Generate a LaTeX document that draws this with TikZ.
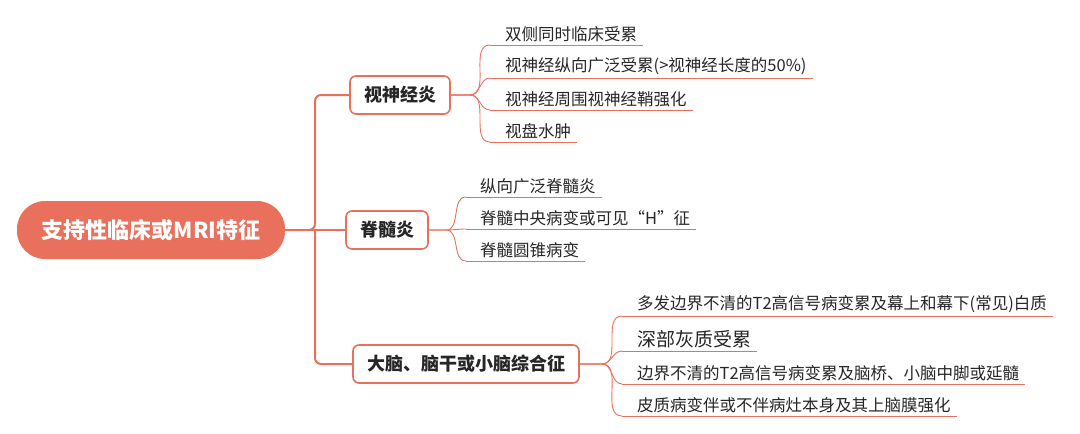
\documentclass[tikz,border=0pt]{standalone}
\usepackage{fontspec}
\setmainfont{Noto Sans CJK SC}
\usetikzlibrary{positioning}
\definecolor{coral}{HTML}{E9705C}

\begin{document}
\begin{tikzpicture}[x=1pt, y=-1pt
        , root/.style={ fill=coral, draw=none, rounded corners=28pt, text=white,
            font=\fontsize{22}{26}\selectfont\bfseries, minimum width=268pt, minimum height=58pt }
        , branch/.style={ fill=white, draw=coral, line width=1.6pt, rounded corners=6pt,
            font=\fontsize{18}{22}\selectfont\bfseries, minimum height=38pt, inner xsep=14pt, text=black!85 }
        , leaf/.style={ anchor=south west, inner xsep=0pt, inner ysep=3pt,
            font=\fontsize{16.5}{20}\selectfont, text=black!85 }
        , trunk/.style={ draw=coral, line width=2pt, rounded corners=6pt }
        , twig/.style={ draw=coral, line width=0.9pt }
        ]
        \useasboundingbox (0,0) rectangle (1080,434);

        \node[root] (root) at (151,230) {支持性临床或MRI特征};

        \node[branch] (b1) at (400,95) {视神经炎};
        \node[branch] (b2) at (387,230) {脊髓炎};
        \node[branch] (b3) at (466,364) {大脑、脑干或小脑综合征};

        % trunk from root to each branch
        \draw[trunk] (root.east) -- (315,230) -- (315,95) -- (b1.west);
        \draw[trunk] (root.east) -- (b2.west);
        \draw[trunk] (315,230) -- (315,364) -- (b3.west);

        % leaves of the first branch
        \foreach \i/\y/\t in {1/45/双侧同时临床受累, 2/78/视神经纵向广泛受累(>视神经长度的50\%),
                3/110/视神经周围视神经鞘强化, 4/142/视盘水肿} {
            \coordinate (u1\i) at (490,\y);
            \node[leaf] (a\i) at (505,\y) {\t};
            \draw[twig] (u1\i) -- ([xshift=6pt]a\i.south east);
            \draw[twig] (b1.east) -- (470,95) to[out=0, in=180] (u1\i);
        }

        % leaves of the second branch
        \foreach \i/\y/\t in {1/197/纵向广泛脊髓炎, 2/229/脊髓中央病变或可见“H”征, 3/261/脊髓圆锥病变} {
            \coordinate (u2\i) at (466,\y);
            \node[leaf] (c\i) at (480,\y) {\t};
            \draw[twig] (u2\i) -- ([xshift=6pt]c\i.south east);
            \draw[twig] (b2.east) -- (446,230) to[out=0, in=180] (u2\i);
        }

        % leaves of the third branch
        \foreach \i/\y/\t in {1/316/多发边界不清的T2高信号病变累及幕上和幕下(常见)白质,
                2/351/{\fontsize{19}{22}\selectfont 深部灰质受累},
                3/384/边界不清的T2高信号病变累及脑桥、小脑中脚或延髓,
                4/416/皮质病变伴或不伴病灶本身及其上脑膜强化} {
            \coordinate (u3\i) at (622,\y);
            \node[leaf] (d\i) at (637,\y) {\t};
            \draw[twig] (u3\i) -- ([xshift=6pt]d\i.south east);
            \draw[twig] (b3.east) -- (602,364) to[out=0, in=180] (u3\i);
        }
\end{tikzpicture}
\end{document}
